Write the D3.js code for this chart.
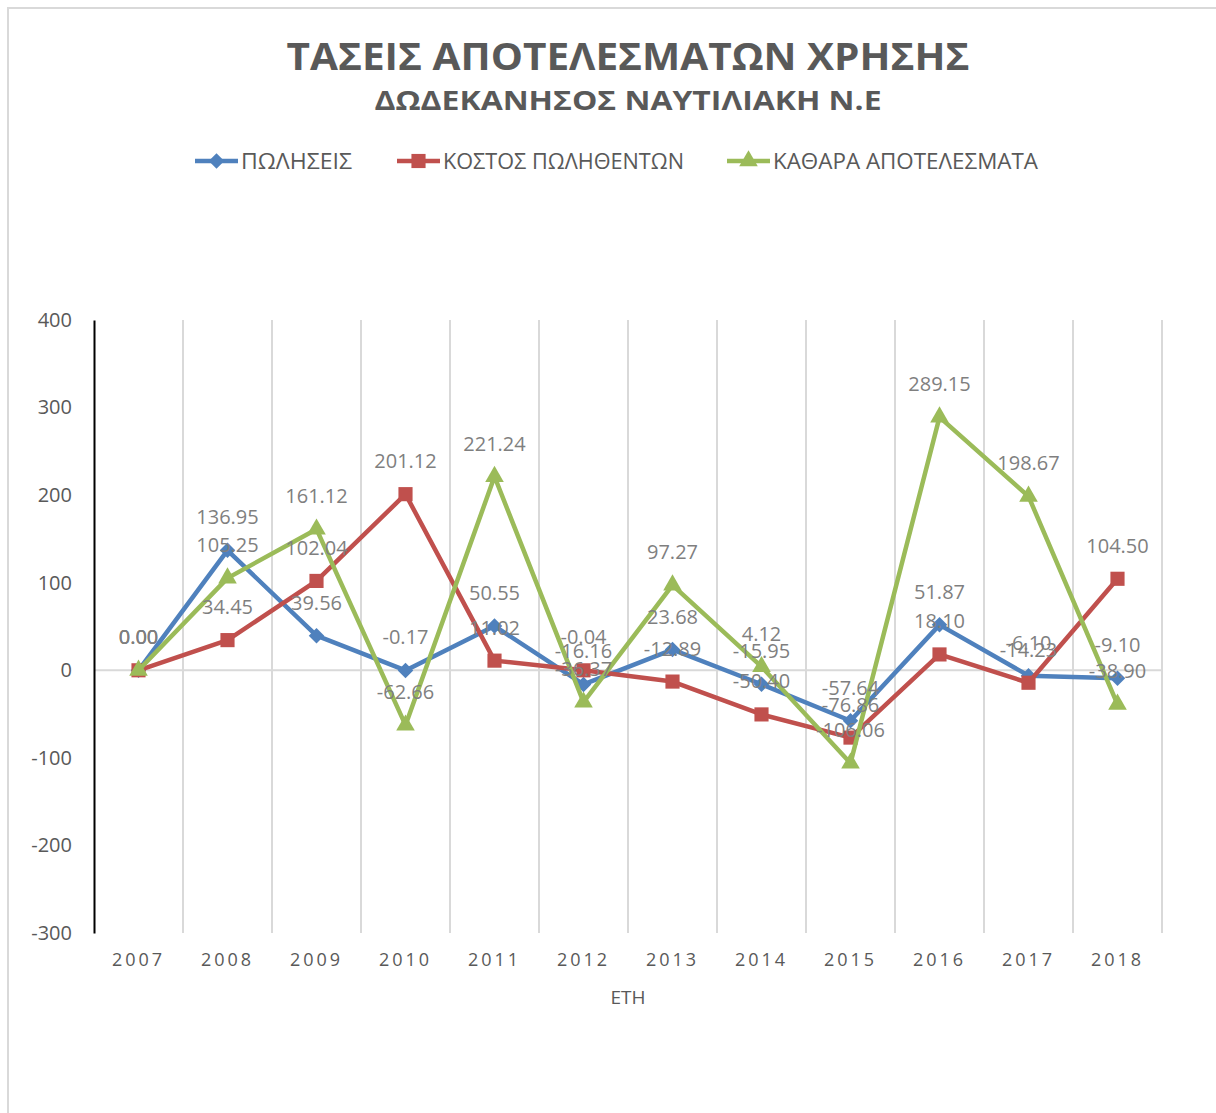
<!DOCTYPE html>
<html>
<head>
<meta charset="utf-8">
<script src="https://cdn.jsdelivr.net/npm/d3@7"></script>
<style>
  body { margin: 0; background: #fff; }
  text { font-family: "Open Sans", "Noto Sans", sans-serif; }
</style>
</head>
<body>
<div id="chart"></div>
<script>
// data
const years = ["2007", "2008", "2009", "2010", "2011", "2012", "2013", "2014", "2015", "2016", "2017", "2018"]
const sales = [0.00, 136.95, 39.56, -0.17, 50.55, -16.16, 23.68, -15.95, -57.64, 51.87, -6.10, -9.10]
const costOfSales = [0.00, 34.45, 102.04, 201.12, 11.02, -0.04, -12.89, -50.40, -76.86, 18.10, -14.23, 104.50]
const netResults = [0.00, 105.25, 161.12, -62.66, 221.24, -36.37, 97.27, 4.12, -106.06, 289.15, 198.67, -38.90]
const yTicks = [-300, -200, -100, 0, 100, 200, 300, 400]

const seriesNames = ["ΠΩΛΗΣΕΙΣ", "ΚΟΣΤΟΣ ΠΩΛΗΘΕΝΤΩΝ", "ΚΑΘΑΡΑ ΑΠΟΤΕΛΕΣΜΑΤΑ"]

function drawChart() {
  const series = [
    { name: seriesNames[0], values: sales, color: "#4f81bd", marker: "diamond" },
    { name: seriesNames[1], values: costOfSales, color: "#c0504d", marker: "square" },
    { name: seriesNames[2], values: netResults, color: "#9bbb59", marker: "triangle" },
  ]

  // plain hyphen minus like Excel
  const locale = d3.formatLocale({ decimal: ".", thousands: ",", grouping: [3], currency: ["", ""], minus: "-" })

  let dimensions = {
    width: 1216,
    height: 1113,
    margin: { top: 320, right: 54, bottom: 180, left: 94 },
  }
  dimensions.boundedWidth = dimensions.width - dimensions.margin.left - dimensions.margin.right
  dimensions.boundedHeight = dimensions.height - dimensions.margin.top - dimensions.margin.bottom

  const wrapper = d3.select("#chart")
    .append("svg")
    .attr("width", dimensions.width)
    .attr("height", dimensions.height)

  // outer chart border (only top/left visible)
  wrapper.append("rect")
    .attr("x", 8)
    .attr("y", 8)
    .attr("width", 1400)
    .attr("height", 1400)
    .attr("fill", "none")
    .attr("stroke", "#d9d9d9")
    .attr("stroke-width", 2)

  // titles
  wrapper.append("text")
    .attr("x", 628)
    .attr("y", 70)
    .attr("text-anchor", "middle")
    .attr("fill", "#595959")
    .style("font-size", "38px")
    .style("font-weight", "bold")
    .attr("textLength", 683)
    .attr("lengthAdjust", "spacingAndGlyphs")
    .text("ΤΑΣΕΙΣ ΑΠΟΤΕΛΕΣΜΑΤΩΝ ΧΡΗΣΗΣ")

  wrapper.append("text")
    .attr("x", 628)
    .attr("y", 110)
    .attr("text-anchor", "middle")
    .attr("fill", "#595959")
    .style("font-size", "26px")
    .style("font-weight", "bold")
    .attr("textLength", 507)
    .attr("lengthAdjust", "spacingAndGlyphs")
    .text("ΔΩΔΕΚΑΝΗΣΟΣ ΝΑΥΤΙΛΙΑΚΗ Ν.Ε")

  const bounds = wrapper.append("g")
    .attr("transform", `translate(${dimensions.margin.left}, ${dimensions.margin.top})`)

  // scales
  const xScale = d3.scaleBand()
    .domain(years)
    .range([0, dimensions.boundedWidth])
  const xCenter = d => xScale(d) + xScale.bandwidth() / 2

  const yScale = d3.scaleLinear()
    .domain([-300, 400])
    .range([dimensions.boundedHeight, 0])

  // vertical grids at category boundaries
  years.forEach(d => {
    bounds.append("line")
      .attr("x1", xScale(d) + xScale.bandwidth())
      .attr("x2", xScale(d) + xScale.bandwidth())
      .attr("y1", 0)
      .attr("y2", dimensions.boundedHeight)
      .attr("stroke", "#d9d9d9")
      .attr("stroke-width", 2)
  })

  // zero line
  bounds.append("line")
    .attr("x1", 0)
    .attr("x2", dimensions.boundedWidth)
    .attr("y1", yScale(0))
    .attr("y2", yScale(0))
    .attr("stroke", "#d9d9d9")
    .attr("stroke-width", 2)

  // y axis
  const yAxisGenerator = d3.axisLeft(yScale)
    .tickValues(yTicks)
    .tickFormat(locale.format("d"))
    .tickSize(0)
    .tickPadding(22)
  const yAxis = bounds.append("g").call(yAxisGenerator)
  yAxis.select(".domain").attr("stroke", "#000").attr("stroke-width", 2)
  yAxis.selectAll("text")
    .attr("fill", "#595959")
    .style("font-size", "20px")
    .style("font-family", "'Open Sans', sans-serif")

  // x axis labels
  const xAxisGenerator = d3.axisBottom(xScale).tickSize(0).tickPadding(20)
  const xAxis = bounds.append("g")
    .attr("transform", `translate(0, ${dimensions.boundedHeight})`)
    .call(xAxisGenerator)
  xAxis.select(".domain").remove()
  xAxis.selectAll("text")
    .attr("fill", "#595959")
    .style("font-size", "18px")
    .style("letter-spacing", "3px")
    .style("font-family", "'Open Sans', sans-serif")

  bounds.append("text")
    .attr("x", dimensions.boundedWidth / 2)
    .attr("y", dimensions.boundedHeight + 71)
    .attr("text-anchor", "middle")
    .attr("fill", "#595959")
    .style("font-size", "19px")
    .text("ΕΤΗ")

  // markers
  const markerPath = {
    diamond: d3.symbol(d3.symbolSquare, 120)(),
    square: d3.symbol(d3.symbolSquare, 200)(),
    triangle: d3.symbol(d3.symbolTriangle, 150)(),
  }
  const markerRotate = { diamond: 45, square: 0, triangle: 0 }

  const lineGenerator = d3.line()
    .x((d, i) => xCenter(years[i]))
    .y(d => yScale(d))

  series.forEach(s => {
    bounds.append("path")
      .attr("d", lineGenerator(s.values))
      .attr("fill", "none")
      .attr("stroke", s.color)
      .attr("stroke-width", 4.5)
      .attr("stroke-linejoin", "round")

    s.values.forEach((v, i) => {
      bounds.append("path")
        .attr("d", markerPath[s.marker])
        .attr("transform", `translate(${xCenter(years[i])}, ${yScale(v)}) rotate(${markerRotate[s.marker]})`)
        .attr("fill", s.color)
    })
  })

  // data labels
  const fmt = locale.format(".2f")
  series.forEach(s => {
    s.values.forEach((v, i) => {
      bounds.append("text")
        .attr("x", xCenter(years[i]))
        .attr("y", yScale(v) - 26)
        .attr("text-anchor", "middle")
        .attr("fill", "#7f7f7f")
        .style("font-size", "20px")
        .text(fmt(v))
    })
  })

  // legend
  const legendItems = [
    { x: 195, textX: 241, len: 111 },
    { x: 397, textX: 443, len: 241 },
    { x: 727, textX: 773, len: 265 },
  ]
  const legendY = 161
  series.forEach((s, i) => {
    const item = legendItems[i]
    wrapper.append("line")
      .attr("x1", item.x)
      .attr("x2", item.x + 43)
      .attr("y1", legendY)
      .attr("y2", legendY)
      .attr("stroke", s.color)
      .attr("stroke-width", 4.5)
    wrapper.append("path")
      .attr("d", markerPath[s.marker])
      .attr("transform", `translate(${item.x + 21.5}, ${legendY}) rotate(${markerRotate[s.marker]})`)
      .attr("fill", s.color)
    wrapper.append("text")
      .attr("x", item.textX)
      .attr("y", legendY + 8)
      .attr("fill", "#595959")
      .style("font-size", "21px")
      .attr("textLength", item.len)
      .attr("lengthAdjust", "spacingAndGlyphs")
      .text(s.name)
  })
}
drawChart()
</script>
</body>
</html>
